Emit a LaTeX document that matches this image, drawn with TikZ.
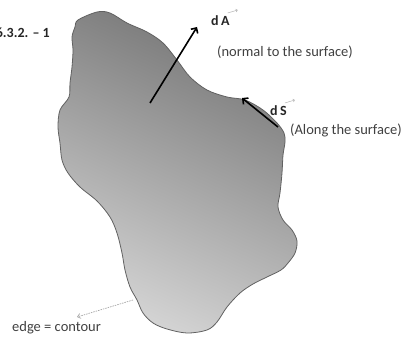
\documentclass[tikz,border=0pt]{standalone}
\usepackage{fontspec}
\setmainfont{Carlito}
\usetikzlibrary{arrows.meta,positioning}

\begin{document}
\begin{tikzpicture}[x=1pt, y=-1pt,
  lbl/.style={font=\fontsize{14.5}{17}\selectfont, text=black!75, inner sep=0pt},
  vlbl/.style={font=\fontsize{14}{17}\selectfont\bfseries, text=black!85, inner sep=0pt},
  arrow/.style={line width=1.6pt, -{Straight Barb[length=4pt,width=8pt]}},
  edgearrow/.style={dashed, black!35, line width=0.7pt, dash pattern=on 1.5pt off 1pt,
    -{Straight Barb[length=3pt,width=5pt]}}
]
  \useasboundingbox (0,0) rectangle (406,339);
  \clip (0,0) rectangle (406,339);

  % surface
  \shade[top color=black!54, middle color=black!36, bottom color=black!17, shading angle=-25,
    draw=black!62, line width=0.8pt]
    plot[smooth cycle, tension=0.55] coordinates {
      (78,20) (97,12) (110,13) (127,23) (147,32) (163,43) (177,60) (190,77)
      (207,90) (227,97) (245,100) (263,110) (277,123) (284,133) (285,142)
      (283,155) (282,173) (280,193) (278,207) (283,220) (292,230) (297,241)
      (295,253) (288,263) (281,270) (267,277) (253,284) (240,293) (227,307)
      (217,322) (207,330) (187,333) (167,329) (153,323) (143,313) (137,300)
      (130,287) (125,270) (122,253) (117,233) (110,217) (97,201) (80,187)
      (68,173) (62,160) (60,143) (58,127) (60,110) (69,97) (70,83) (72,67)
      (73,50) (72,37) (75,27)};

  \node[vlbl, anchor=east] (fig) at (50,33) {6.3.2. -- 1};

  % vectors
  \coordinate (dAfoot) at (150,103);
  \coordinate (dAtip)  at (197,27);
  \coordinate (dSfoot) at (278,127);
  \coordinate (dStip)  at (242,98);
  \draw[arrow] (dAfoot) -- (dAtip);
  \draw[arrow] (dSfoot) -- (dStip);

  \node[vlbl, anchor=base west] (dA) at (211,26) {d\,A};
  \draw[black!30, line width=0.5pt, -{Straight Barb[length=1.5pt,width=3pt]}]
    ([xshift=-2pt,yshift=3pt]dA.north east) -- ++(10,-3);
  \node[lbl, anchor=base west] (normal) at (217,57) {(normal to the surface)};

  \node[vlbl, anchor=base west] (dS) at (270,116) {d\,S};
  \draw[black!30, line width=0.5pt, -{Straight Barb[length=1.5pt,width=3pt]}]
    ([xshift=-2pt,yshift=3pt]dS.north east) -- ++(10,-3);
  \node[lbl, anchor=base west] (along) at (290,135) {(Along the surface)};

  % contour
  \node[lbl, anchor=base west] (edge) at (12,331) {edge = contour};
  \coordinate (rim) at (133,300);
  \coordinate (edgetip) at (77,317);
  \draw[edgearrow] (rim) -- (edgetip);
\end{tikzpicture}
\end{document}
